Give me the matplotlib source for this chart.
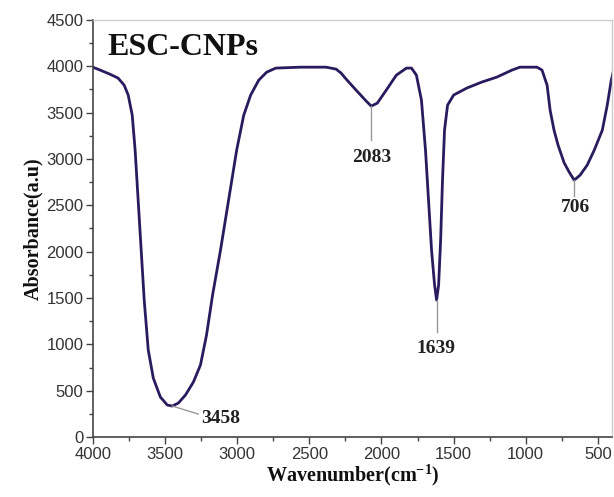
import matplotlib
matplotlib.use("Agg")
import matplotlib.pyplot as plt
from matplotlib.ticker import MultipleLocator

plt.rcParams["mathtext.fontset"] = "custom"
plt.rcParams["mathtext.rm"] = "Liberation Serif:bold"
plt.rcParams["mathtext.bf"] = "Liberation Serif:bold"

# Spectrum
wavenumber = [4000, 3951, 3882, 3826, 3784, 3756, 3728, 3708, 3687, 3666, 3645, 3617,
              3582, 3533, 3485, 3450, 3408, 3359, 3304, 3255, 3213, 3171, 3116, 3060,
              3004, 2955, 2907, 2851, 2796, 2733, 2558, 2384, 2315, 2280, 2245, 2176,
              2106, 2071, 2029, 1967, 1897, 1827, 1792, 1758, 1723, 1695, 1674, 1653,
              1632, 1618, 1604, 1590, 1577, 1563, 1542, 1500, 1409, 1305, 1200, 1096,
              1040, 922, 887, 852, 831, 804, 776, 734, 699, 664, 623, 574, 525, 469,
              435, 407, 386]
absorbance = [3990, 3960, 3915, 3873, 3797, 3690, 3473, 3096, 2557, 2017, 1478, 939,
              636, 431, 345, 334, 367, 453, 593, 777, 1100, 1532, 2017, 2557,
              3096, 3473, 3690, 3851, 3937, 3981, 3991, 3991, 3970, 3927, 3862, 3743,
              3625, 3571, 3603, 3743, 3905, 3981, 3981, 3905, 3635, 3096, 2557, 2017,
              1640, 1478, 1640, 2125, 2772, 3312, 3581, 3690, 3765, 3830, 3884, 3959,
              3991, 3991, 3959, 3797, 3527, 3312, 3150, 2960, 2859, 2772, 2826, 2934, 3096, 3312,
              3581, 3851, 3990]

peak_x = [3450, 2071, 1618, 664]
peak_y = [334, 3571, 1478, 2772]
peak_labels = ["3458", "2083", "1639", "706"]

x_ticks = [4000, 3500, 3000, 2500, 2000, 1500, 1000, 500]
y_ticks = [0, 500, 1000, 1500, 2000, 2500, 3000, 3500, 4000, 4500]

fig = plt.figure(figsize=(6.14, 4.97), dpi=100)
ax = fig.add_axes([93/614, 60/497, (612-93)/614, (437-20)/497])

ax.plot(wavenumber, absorbance, color="#2a1a5e", lw=2.0, solid_capstyle="round")

ax.set_xlim(4000, 402)
ax.set_ylim(0, 4500)
ax.set_xticks(x_ticks)
ax.set_yticks(y_ticks)
ax.xaxis.set_minor_locator(MultipleLocator(250))
ax.yaxis.set_minor_locator(MultipleLocator(250))

tick_font = dict(family="Liberation Sans", size=12, color="#333333")
ax.set_xticklabels([str(v) for v in x_ticks], **tick_font)
ax.set_yticklabels([str(v) for v in y_ticks], **tick_font)
ax.tick_params(which="major", direction="out", length=5, width=1, color="#444444", pad=2)
ax.tick_params(which="minor", direction="out", length=3, width=1, color="#444444")
ax.tick_params(axis="x", which="both", top=False)
ax.tick_params(axis="y", which="both", right=False)

for s in ["left", "bottom"]:
    ax.spines[s].set_color("#444444")
    ax.spines[s].set_linewidth(1.2)
for s in ["top", "right"]:
    ax.spines[s].set_color("#cccccc")
    ax.spines[s].set_linewidth(1.0)

lab_font = dict(family="Liberation Serif", weight="bold", size=14.5, color="#111111")
ax.set_xlabel("Wavenumber(cm$^{-1}$)", labelpad=0, **lab_font)
ax.set_ylabel("Absorbance(a.u)", labelpad=2, **lab_font)

ax.text(0.028, 0.935, "ESC-CNPs", transform=ax.transAxes, family="Liberation Serif",
        weight="bold", size=23, color="#111111", va="center", ha="left")

pk_font = dict(family="Liberation Serif", weight="bold", size=14, color="#222222")
lead = dict(color="#999999", lw=1)
# 3458: diagonal leader
ax.plot([peak_x[0], 3271], [peak_y[0], 248], **lead)
ax.text(3250, 205, peak_labels[0], ha="left", va="center", **pk_font)
# 2083
ax.plot([peak_x[1], peak_x[1]], [peak_y[1], 3204], **lead)
ax.text(peak_x[1], 3020, peak_labels[1], ha="center", va="center", **pk_font)
# 1639
ax.plot([peak_x[2], peak_x[2]], [peak_y[2], 1133], **lead)
ax.text(1625, 960, peak_labels[2], ha="center", va="center", **pk_font)
# 706
ax.plot([peak_x[3], peak_x[3]], [peak_y[3], 2600], **lead)
ax.text(657, 2481, peak_labels[3], ha="center", va="center", **pk_font)

fig.savefig("out.png", dpi=100)
